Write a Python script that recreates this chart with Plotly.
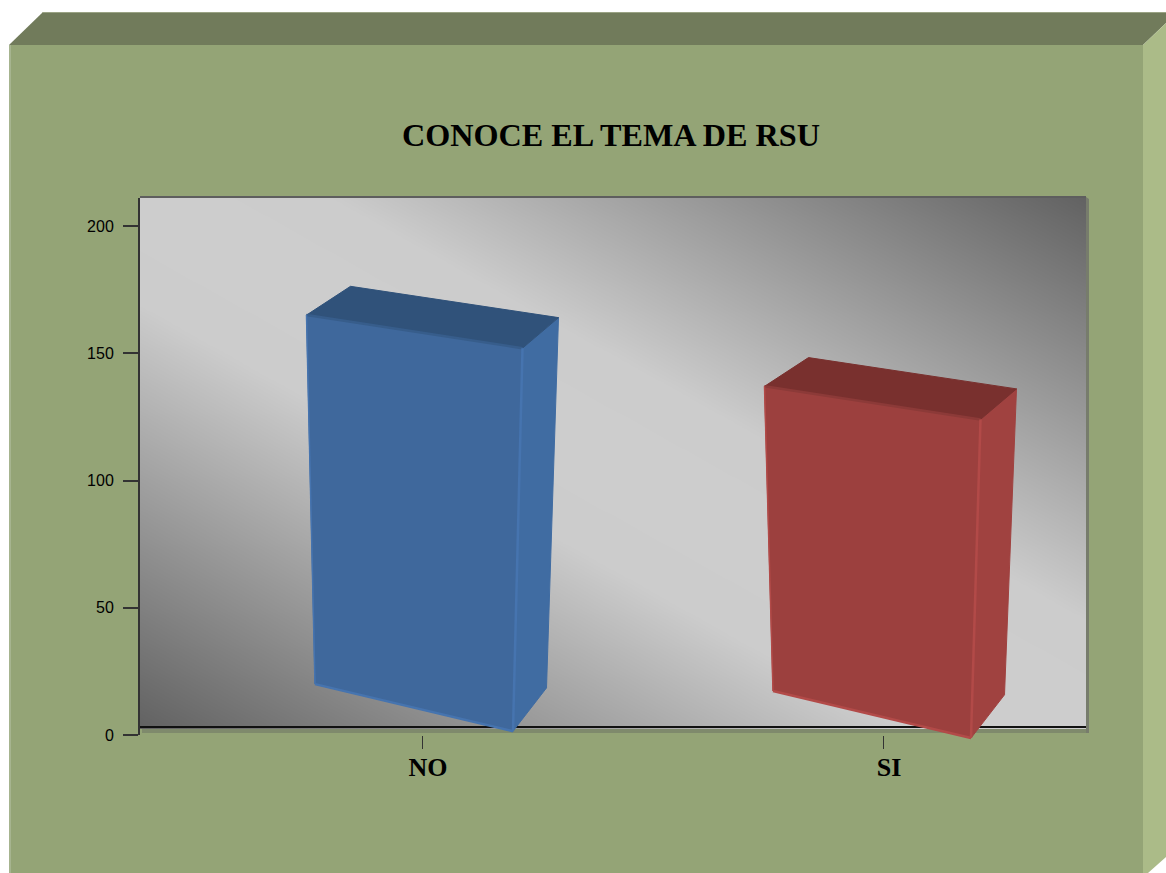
import numpy as np
import plotly.graph_objects as go

# ---- data ----
categories = ["NO", "SI"]
values = [165, 137]
y_ticks = [0, 50, 100, 150, 200]
title_text = "CONOCE EL TEMA DE RSU"

# ---- layout constants (pixels of the 1166x873 page) ----
W, H = 1166, 873
PLOT_L, PLOT_R, PLOT_T, AXIS_B, FLOOR = 140, 1086, 198, 735, 727
PX_PER_VALUE = 2.545
PX_PER_CAT = 461
TICK0 = 422
BAR_AXIS_MIN = -10   # hidden bar axis runs below zero so the box corners are not clipped

def fx(p):
    return p / W

def fy(p):
    return 1 - p / H

def to_cat(p):
    return (p - TICK0) / PX_PER_CAT

def to_val(p):
    return (AXIS_B - p) / PX_PER_VALUE

x_range = [to_cat(PLOT_L), to_cat(PLOT_R)]
y_range = [0, to_val(PLOT_T)]
floor_val = to_val(FLOOR)

# ---- box model: offsets of the visible box corners around a bar's centre ----
DX_TOP = {"FL": -115.5, "FR": 100.5, "BR": 136.5, "BL": -71.5}
DX_BOT = {"FL": -107, "FR": 91, "BR": 124.5}
DY_TOP = {"FL": 0, "FR": -13, "BR": -1, "BL": 11.3}
Y_BASE = {"FL": 20, "FR": 1.5, "BR": 18.5}
BAR_SHIFT_X = [0, -3]
BAR_SHIFT_Y = [0, -2.7]

PALETTES = [
    dict(front="#3F689C", side="#406CA2", top="#30527A", edge="#4674AF", seam="#375D8B"),
    dict(front="#9C403E", side="#A04240", top="#79302E", edge="#B24A48", seam="#8C3A38"),
]

fig = go.Figure()

# ---- plot wall gradient ----
gx = np.linspace(x_range[0], x_range[1], 190)
gy = np.linspace(floor_val, y_range[1], 110)
u = (gx - x_range[0]) / (x_range[1] - x_range[0])
v = (gy - floor_val) / (y_range[1] - floor_val)
U, V = np.meshgrid(u, v)
t = U + V - 1.0          # 0 on the light diagonal, -1 / +1 at the dark corners
grey = np.interp(np.abs(t), [0, 0.2, 1.0], [205, 204, 98])
fig.add_trace(go.Heatmap(
    x=gx, y=gy, z=grey, zmin=0, zmax=255, zsmooth="best", showscale=False,
    colorscale=[[0, "#000000"], [1, "#ffffff"]], hoverinfo="skip"))

# ---- floor line ----
fig.add_trace(go.Scatter(x=x_range, y=[floor_val, floor_val], mode="lines",
                         line=dict(color="#111111", width=2), hoverinfo="skip", showlegend=False))

def face(xs, ys, fill, line, width=1):
    fig.add_trace(go.Scatter(x=xs + xs[:1], y=ys + ys[:1], mode="lines", fill="toself", yaxis="y2",
                             fillcolor=fill, line=dict(color=line, width=width),
                             hoverinfo="skip", showlegend=False))

def edge(xs, ys, color, width):
    fig.add_trace(go.Scatter(x=xs, y=ys, mode="lines", line=dict(color=color, width=width), yaxis="y2",
                             hoverinfo="skip", showlegend=False))

# ---- bars ----
for i, (name, value) in enumerate(zip(categories, values)):
    pal = PALETTES[i]
    cx = i + BAR_SHIFT_X[i] / PX_PER_CAT
    tx = {k: cx + d / PX_PER_CAT for k, d in DX_TOP.items()}
    bx = {k: cx + d / PX_PER_CAT for k, d in DX_BOT.items()}
    ty = {k: value + d for k, d in DY_TOP.items()}
    by = {k: d + BAR_SHIFT_Y[i] for k, d in Y_BASE.items()}
    # side
    face([bx["FR"], tx["FR"], tx["BR"], bx["BR"]], [by["FR"], ty["FR"], ty["BR"], by["BR"]],
         pal["side"], pal["side"])
    # top
    face([tx["FL"], tx["BL"], tx["BR"], tx["FR"]], [ty["FL"], ty["BL"], ty["BR"], ty["FR"]],
         pal["top"], pal["top"])
    # front
    face([bx["FL"], tx["FL"], tx["FR"], bx["FR"]], [by["FL"], ty["FL"], ty["FR"], by["FR"]],
         pal["front"], pal["front"])
    # lit edges
    edge([tx["FL"], tx["FR"]], [ty["FL"], ty["FR"]], pal["seam"], 2.5)
    edge([bx["FL"], tx["FL"]], [by["FL"], ty["FL"]], pal["edge"], 1.5)
    edge([bx["FL"], bx["FR"]], [by["FL"], by["FR"]], pal["edge"], 2.5)
    edge([bx["FR"], tx["FR"]], [by["FR"], ty["FR"]], pal["edge"], 2.5)

# ---- cabinet frame (wall, bevels, plot shadow) ----
def poly(points, color):
    path = "M " + " L ".join(f"{fx(a)},{fy(b)}" for a, b in points) + " Z"
    return dict(type="path", path=path, xref="paper", yref="paper", fillcolor=color,
                line=dict(width=0), layer="below")

shapes = [
    poly([(9, 45), (1143, 45), (1143, 873), (9, 873)], "#94A476"),
    poly([(9, 45), (11, 45), (11, 873), (9, 873)], "#A6B48F"),
    poly([(9, 45), (43, 12), (1166, 12), (1166, 23), (1143, 45)], "#717B5B"),
    poly([(43, 12), (1166, 12), (1166, 13), (42, 13)], "#9AA384"),
    poly([(1143, 45), (1166, 23), (1166, 857), (1148, 873), (1143, 873)], "#ABBB88"),
    poly([(142, 727), (1089, 727), (1089, 733), (142, 733)], "#7F8A6C"),
    poly([(1086, 197), (1089, 199), (1089, 733), (1086, 733)], "#777C6C"),
    poly([(140, 196), (1086, 196), (1086, 199), (140, 199)], "#5E5E5E"),
]

fig.update_layout(
    width=W, height=H, margin=dict(l=0, r=0, t=0, b=0),
    paper_bgcolor="#FFFFFF", plot_bgcolor="rgba(0,0,0,0)", showlegend=False, shapes=shapes,
    title=dict(text=f"<b>{title_text}</b>", x=611 / W, xref="paper", xanchor="center",
               y=fy(135), yref="paper", yanchor="middle", automargin=False,
               font=dict(family="Liberation Serif", size=32.2, color="#000000")),
    xaxis=dict(domain=[fx(PLOT_L), fx(PLOT_R)], range=x_range, tickmode="array", automargin=False,
               tickvals=list(range(len(categories))), ticktext=[f"<b>{c}</b>" for c in categories],
               ticks="outside", ticklen=13, tickwidth=1, tickcolor="#333333", showgrid=False,
               zeroline=False, showline=False, ticklabelshift=6, ticklabelstandoff=-4,
               tickfont=dict(family="Liberation Serif", size=26, color="#000000")),
    yaxis=dict(domain=[fy(AXIS_B), fy(PLOT_T)], range=y_range, tickmode="array", automargin=False,
               tickvals=y_ticks, ticks="outside", ticklen=15, tickwidth=1.5, tickcolor="#333333",
               showgrid=False, zeroline=False, showline=True, linecolor="#333333", linewidth=2,
               ticklabelstandoff=6,
               tickfont=dict(family="Liberation Sans", size=16, color="#000000")),
    yaxis2=dict(domain=[fy(AXIS_B - BAR_AXIS_MIN * PX_PER_VALUE), fy(PLOT_T)],
                range=[BAR_AXIS_MIN, y_range[1]], anchor="x", visible=False, automargin=False,
                showgrid=False, zeroline=False),
)

fig.write_html("out.html", config={"displayModeBar": False},
               post_script="document.body.style.margin='0';")
